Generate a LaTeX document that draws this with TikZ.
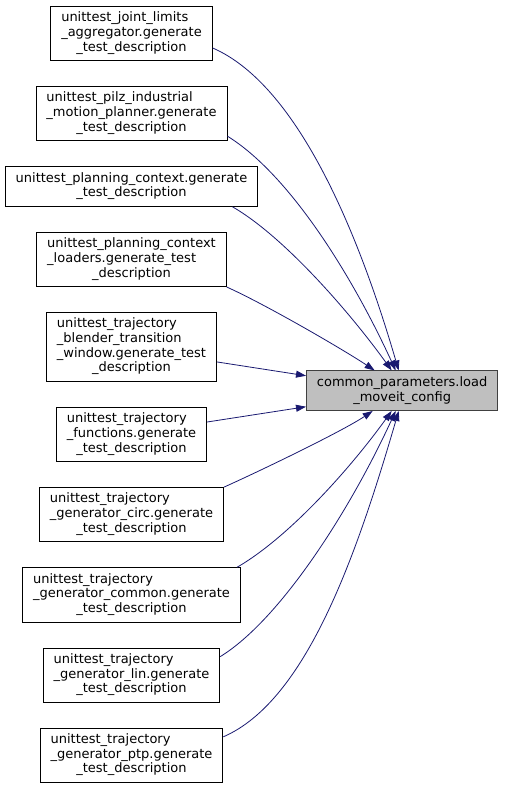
\documentclass[tikz,border=0pt]{standalone}
\usepackage{fontspec}
\setmainfont{DejaVu Sans}
\usepackage{xcolor}
\usetikzlibrary{calc}
\usetikzlibrary{positioning,arrows.meta}

\definecolor{edgeblue}{RGB}{25,25,112}
\definecolor{callgray}{RGB}{191,191,191}
\definecolor{bordergray}{RGB}{64,64,64}

% all lines but the last are left aligned, the last one is centred
\newcommand{\dlabel}[2]{\begin{tabular}{@{}l@{}}#1\\\multicolumn{1}{@{}c@{}}{#2}\end{tabular}}

\begin{document}
\begin{tikzpicture}[
  x=1pt, y=1pt,
  node distance=25pt and 174.5pt,
  >={Triangle[length=10pt,width=7pt]},   % set default arrow tip
  caller/.style={rectangle, draw=black, line width=0.9pt, fill=white, inner xsep=10.5pt, inner ysep=5.1pt, font=\fontsize{13}{14.7}\selectfont},
  callee/.style={caller, draw=bordergray, fill=callgray},
  edge/.style={->, draw=edgeblue, line width=0.8pt}
]
\useasboundingbox (0,0) rectangle (505,-789);

% Nodes
\node[caller] at (131.5,-33.5)   (b1)  {\dlabel{unittest\_joint\_limits\\\_aggregator.generate}{\_test\_description}};
\node[caller, below=of b1]       (b2)  {\dlabel{unittest\_pilz\_industrial\\\_motion\_planner.generate}{\_test\_description}};
\node[caller, below=of b2]       (b3)  {\dlabel{unittest\_planning\_context.generate}{\_test\_description}};
\node[caller, below=of b3]       (b4)  {\dlabel{unittest\_planning\_context\\\_loaders.generate\_test}{\_description}};
\node[caller, below=of b4]       (b5)  {\dlabel{unittest\_trajectory\\\_blender\_transition\\\_window.generate\_test}{\_description}};
\node[caller, below=of b5]       (b6)  {\dlabel{unittest\_trajectory\\\_functions.generate}{\_test\_description}};
\node[caller, below=of b6]       (b7)  {\dlabel{unittest\_trajectory\\\_generator\_circ.generate}{\_test\_description}};
\node[caller, below=of b7]       (b8)  {\dlabel{unittest\_trajectory\\\_generator\_common.generate}{\_test\_description}};
\node[caller, below=of b8]       (b9)  {\dlabel{unittest\_trajectory\\\_generator\_lin.generate}{\_test\_description}};
\node[caller, below=of b9]       (b10) {\dlabel{unittest\_trajectory\\\_generator\_ptp.generate}{\_test\_description}};

\coordinate (mid) at ($(b5)!0.5!(b6)$);
\node[callee, right=of mid]      (tgt) {\dlabel{common\_parameters.load}{\_moveit\_config}};

% Edges
\draw[edge] ([yshift=-14.5pt]b1.east) .. controls +(83,-36) and +(-42,144) .. ([xshift=-3.5pt]tgt.north);
\draw[edge] ([yshift=-22.5pt]b2.east) .. controls +(60,-37) and +(-46,100) .. ([xshift=-6.5pt]tgt.north);
\draw[edge] ([xshift=101pt]b3.south)  .. controls +(52,-30) and +(-41,57)  .. ([xshift=-10.5pt]tgt.north);
\draw[edge] (b4.south east)           .. controls +(40,-18) and +(-30,20)  .. ([xshift=-27.5pt]tgt.north);
\draw[edge] ([yshift=-15pt]b5.east) -- ([yshift=15pt]tgt.west);
\draw[edge] ([yshift=12.5pt]b6.east) -- ([yshift=-16pt]tgt.west);
\draw[edge] (b7.north east)           .. controls +(40,18) and +(-30,-20)  .. ([xshift=-29.5pt]tgt.south);
\draw[edge] ([xshift=105.5pt]b8.north) .. controls +(52,30) and +(-41,-57) .. ([xshift=-10.5pt]tgt.south);
\draw[edge] ([yshift=18.5pt]b9.east)  .. controls +(60,37) and +(-46,-100) .. ([xshift=-6.5pt]tgt.south);
\draw[edge] ([yshift=18.5pt]b10.east) .. controls +(83,36) and +(-42,-144) .. ([xshift=-3.5pt]tgt.south);
\end{tikzpicture}
\end{document}
